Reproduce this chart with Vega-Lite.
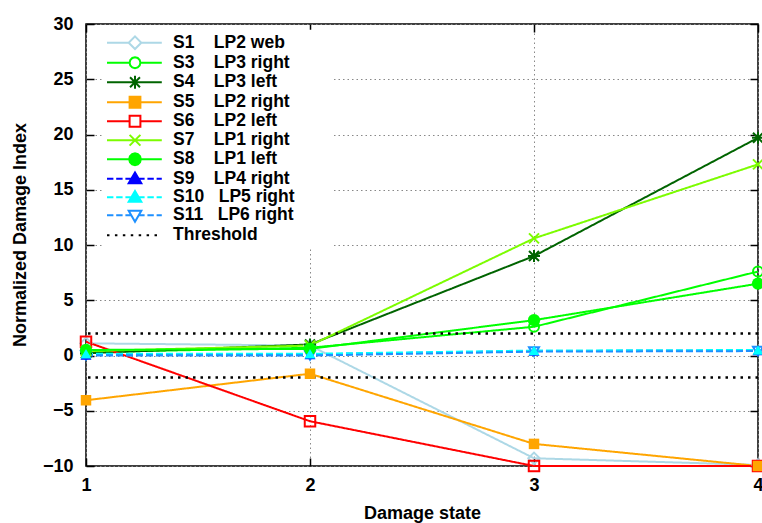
{
  "$schema": "https://vega.github.io/schema/vega-lite/v6.json",
  "width": 672,
  "height": 442,
  "autosize": {"type": "none"},
  "padding": {"left": 86, "top": 24, "right": 4, "bottom": 57},
  "background": "white",
  "config": {"view": {"stroke": "black", "strokeWidth": 1.5}, "font": "Liberation Sans"},
  "datasets": {
    "lines": [
      {"id": "S1", "series": "S1\u00a0\u00a0\u00a0\u00a0LP2 web", "x": 1, "y": 1.1},
      {"id": "S1", "series": "S1\u00a0\u00a0\u00a0\u00a0LP2 web", "x": 2, "y": 0.9},
      {"id": "S1", "series": "S1\u00a0\u00a0\u00a0\u00a0LP2 web", "x": 3, "y": -9.3},
      {"id": "S1", "series": "S1\u00a0\u00a0\u00a0\u00a0LP2 web", "x": 4, "y": -9.9},
      {"id": "S3", "series": "S3\u00a0\u00a0\u00a0\u00a0LP3 right", "x": 1, "y": 0.3},
      {"id": "S3", "series": "S3\u00a0\u00a0\u00a0\u00a0LP3 right", "x": 2, "y": 0.7},
      {"id": "S3", "series": "S3\u00a0\u00a0\u00a0\u00a0LP3 right", "x": 3, "y": 2.6},
      {"id": "S3", "series": "S3\u00a0\u00a0\u00a0\u00a0LP3 right", "x": 4, "y": 7.6},
      {"id": "S4", "series": "S4\u00a0\u00a0\u00a0\u00a0LP3 left", "x": 1, "y": 0.2},
      {"id": "S4", "series": "S4\u00a0\u00a0\u00a0\u00a0LP3 left", "x": 2, "y": 1.0},
      {"id": "S4", "series": "S4\u00a0\u00a0\u00a0\u00a0LP3 left", "x": 3, "y": 9.0},
      {"id": "S4", "series": "S4\u00a0\u00a0\u00a0\u00a0LP3 left", "x": 4, "y": 19.7},
      {"id": "S5", "series": "S5\u00a0\u00a0\u00a0\u00a0LP2 right", "x": 1, "y": -4.05},
      {"id": "S5", "series": "S5\u00a0\u00a0\u00a0\u00a0LP2 right", "x": 2, "y": -1.65},
      {"id": "S5", "series": "S5\u00a0\u00a0\u00a0\u00a0LP2 right", "x": 3, "y": -8.0},
      {"id": "S5", "series": "S5\u00a0\u00a0\u00a0\u00a0LP2 right", "x": 4, "y": -10},
      {"id": "S6", "series": "S6\u00a0\u00a0\u00a0\u00a0LP2 left", "x": 1, "y": 1.25},
      {"id": "S6", "series": "S6\u00a0\u00a0\u00a0\u00a0LP2 left", "x": 2, "y": -5.95},
      {"id": "S6", "series": "S6\u00a0\u00a0\u00a0\u00a0LP2 left", "x": 3, "y": -10},
      {"id": "S6", "series": "S6\u00a0\u00a0\u00a0\u00a0LP2 left", "x": 4, "y": -10},
      {"id": "S7", "series": "S7\u00a0\u00a0\u00a0\u00a0LP1 right", "x": 1, "y": 0.4},
      {"id": "S7", "series": "S7\u00a0\u00a0\u00a0\u00a0LP1 right", "x": 2, "y": 0.9},
      {"id": "S7", "series": "S7\u00a0\u00a0\u00a0\u00a0LP1 right", "x": 3, "y": 10.6},
      {"id": "S7", "series": "S7\u00a0\u00a0\u00a0\u00a0LP1 right", "x": 4, "y": 17.3},
      {"id": "S8", "series": "S8\u00a0\u00a0\u00a0\u00a0LP1 left", "x": 1, "y": 0.5},
      {"id": "S8", "series": "S8\u00a0\u00a0\u00a0\u00a0LP1 left", "x": 2, "y": 0.6},
      {"id": "S8", "series": "S8\u00a0\u00a0\u00a0\u00a0LP1 left", "x": 3, "y": 3.2},
      {"id": "S8", "series": "S8\u00a0\u00a0\u00a0\u00a0LP1 left", "x": 4, "y": 6.5},
      {"id": "S9", "series": "S9\u00a0\u00a0\u00a0\u00a0LP4 right", "x": 1, "y": 0.05},
      {"id": "S9", "series": "S9\u00a0\u00a0\u00a0\u00a0LP4 right", "x": 2, "y": 0.1},
      {"id": "S9", "series": "S9\u00a0\u00a0\u00a0\u00a0LP4 right", "x": 3, "y": 0.4},
      {"id": "S9", "series": "S9\u00a0\u00a0\u00a0\u00a0LP4 right", "x": 4, "y": 0.45},
      {"id": "S10", "series": "S10\u00a0\u00a0\u00a0LP5 right", "x": 1, "y": 0.15},
      {"id": "S10", "series": "S10\u00a0\u00a0\u00a0LP5 right", "x": 2, "y": 0.15},
      {"id": "S10", "series": "S10\u00a0\u00a0\u00a0LP5 right", "x": 3, "y": 0.45},
      {"id": "S10", "series": "S10\u00a0\u00a0\u00a0LP5 right", "x": 4, "y": 0.5},
      {"id": "S11", "series": "S11\u00a0\u00a0\u00a0LP6 right", "x": 1, "y": 0.0},
      {"id": "S11", "series": "S11\u00a0\u00a0\u00a0LP6 right", "x": 2, "y": 0.0},
      {"id": "S11", "series": "S11\u00a0\u00a0\u00a0LP6 right", "x": 3, "y": 0.35},
      {"id": "S11", "series": "S11\u00a0\u00a0\u00a0LP6 right", "x": 4, "y": 0.4}
    ],
    "thr": [
      {"series": "Threshold", "y": 2},
      {"series": "Threshold", "y": -2}
    ]
  },
  "layer": [
    {
      "data": {"name": "lines"},
      "mark": {"type": "line", "strokeWidth": 2},
      "encoding": {
        "x": {
          "field": "x", "type": "quantitative",
          "scale": {"domain": [1, 4], "nice": false, "zero": false},
          "axis": {
            "orient": "bottom", "values": [1, 2, 3, 4], "format": "d",
            "title": "Damage state", "titleFontSize": 18, "titleFontWeight": "bold", "titleFont": "Liberation Sans", "titleColor": "black",
            "titleY": 47.7, "titleBaseline": "middle",
            "labelFontSize": 18, "labelFontWeight": "bold", "labelFont": "Liberation Sans", "labelColor": "black", "labelFlush": false,
            "tickSize": -8, "tickColor": "black", "tickWidth": 1.5, "labelPadding": 18,
            "domain": false, "grid": true, "gridDash": [1.5, 3], "gridColor": "#888888", "gridWidth": 1
          }
        },
        "y": {
          "field": "y", "type": "quantitative",
          "scale": {"domain": [-10, 30], "nice": false, "zero": false},
          "axis": {
            "orient": "left", "values": [-10, -5, 0, 5, 10, 15, 20, 25, 30],
            "title": "Normalized Damage Index", "titleFontSize": 18, "titleFontWeight": "bold", "titleFont": "Liberation Sans", "titleColor": "black",
            "titleX": -66, "titleY": 210.5, "titleBaseline": "middle", "titleAlign": "center",
            "labelFontSize": 18, "labelFontWeight": "bold", "labelFont": "Liberation Sans", "labelColor": "black", "labelFlush": false,
            "tickSize": -8, "tickColor": "black", "tickWidth": 1.5, "labelPadding": 21,
            "domain": false, "grid": true, "gridDash": [1.5, 3], "gridColor": "#888888", "gridWidth": 1
          }
        },
        "color": {
          "field": "series", "type": "nominal",
          "scale": {
            "domain": ["Threshold", "S1\u00a0\u00a0\u00a0\u00a0LP2 web", "S3\u00a0\u00a0\u00a0\u00a0LP3 right", "S4\u00a0\u00a0\u00a0\u00a0LP3 left", "S5\u00a0\u00a0\u00a0\u00a0LP2 right", "S6\u00a0\u00a0\u00a0\u00a0LP2 left", "S7\u00a0\u00a0\u00a0\u00a0LP1 right", "S8\u00a0\u00a0\u00a0\u00a0LP1 left", "S9\u00a0\u00a0\u00a0\u00a0LP4 right", "S10\u00a0\u00a0\u00a0LP5 right", "S11\u00a0\u00a0\u00a0LP6 right"],
            "range": ["#000000", "#add8e6", "#00ff00", "#006400", "#ffa500", "#ff0000", "#7cfc00", "#00ff00", "#0000ff", "#00ffff", "#1e90ff"]
          },
          "legend": null
        },
        "strokeDash": {
          "field": "id", "type": "nominal",
          "scale": {"domain": ["S1", "S3", "S4", "S5", "S6", "S7", "S8", "S9", "S10", "S11"], "range": [[1, 0], [1, 0], [1, 0], [1, 0], [1, 0], [1, 0], [1, 0], [7, 3], [7, 3], [7, 3]]},
          "legend": null
        }
      }
    },
    {
      "data": {"name": "thr"},
      "mark": {"type": "rule", "strokeWidth": 2.5, "strokeDash": [2.5, 5]},
      "encoding": {
        "y": {"field": "y", "type": "quantitative", "axis": null},
        "color": {"field": "series", "type": "nominal", "legend": null}
      }
    },
    {
      "data": {"name": "lines"},
      "transform": [{"filter": {"field": "id", "equal": "S1"}}],
      "mark": {"type": "point", "shape": "diamond", "filled": false, "strokeWidth": 2, "size": 130, "opacity": 1},
      "encoding": {
        "x": {"field": "x", "type": "quantitative", "axis": null},
        "y": {"field": "y", "type": "quantitative", "axis": null},
        "color": {"field": "series", "type": "nominal", "legend": null}
      }
    },
    {
      "data": {"name": "lines"},
      "transform": [{"filter": {"field": "id", "equal": "S3"}}],
      "mark": {"type": "point", "shape": "circle", "filled": false, "strokeWidth": 2, "size": 100, "opacity": 1},
      "encoding": {
        "x": {"field": "x", "type": "quantitative", "axis": null},
        "y": {"field": "y", "type": "quantitative", "axis": null},
        "color": {"field": "series", "type": "nominal", "legend": null}
      }
    },
    {
      "data": {"name": "lines"},
      "transform": [{"filter": {"field": "id", "equal": "S4"}}],
      "mark": {"type": "point", "shape": "M-1,-1L1,1M-1,1L1,-1M0,-1.2V1.2M-1.2,0H1.2", "filled": false, "strokeWidth": 2, "size": 100, "opacity": 1},
      "encoding": {
        "x": {"field": "x", "type": "quantitative", "axis": null},
        "y": {"field": "y", "type": "quantitative", "axis": null},
        "color": {"field": "series", "type": "nominal", "legend": null}
      }
    },
    {
      "data": {"name": "lines"},
      "transform": [{"filter": {"field": "id", "equal": "S6"}}],
      "mark": {"type": "point", "shape": "square", "filled": false, "strokeWidth": 2, "size": 110, "opacity": 1},
      "encoding": {
        "x": {"field": "x", "type": "quantitative", "axis": null},
        "y": {"field": "y", "type": "quantitative", "axis": null},
        "color": {"field": "series", "type": "nominal", "legend": null}
      }
    },
    {
      "data": {"name": "lines"},
      "transform": [{"filter": {"field": "id", "equal": "S7"}}],
      "mark": {"type": "point", "shape": "M-1,-1L1,1M-1,1L1,-1", "filled": false, "strokeWidth": 2, "size": 100, "opacity": 1},
      "encoding": {
        "x": {"field": "x", "type": "quantitative", "axis": null},
        "y": {"field": "y", "type": "quantitative", "axis": null},
        "color": {"field": "series", "type": "nominal", "legend": null}
      }
    },
    {
      "data": {"name": "lines"},
      "transform": [{"filter": {"field": "id", "equal": "S11"}}],
      "mark": {"type": "point", "shape": "triangle-down", "filled": false, "strokeWidth": 2, "size": 100, "opacity": 1},
      "encoding": {
        "x": {"field": "x", "type": "quantitative", "axis": null},
        "y": {"field": "y", "type": "quantitative", "axis": null},
        "color": {"field": "series", "type": "nominal", "legend": null}
      }
    },
    {
      "data": {"name": "lines"},
      "transform": [{"filter": {"field": "id", "equal": "S8"}}],
      "mark": {"type": "point", "shape": "circle", "filled": true, "size": 150, "opacity": 1},
      "encoding": {
        "x": {"field": "x", "type": "quantitative", "axis": null},
        "y": {"field": "y", "type": "quantitative", "axis": null},
        "color": {"field": "series", "type": "nominal", "legend": null}
      }
    },
    {
      "data": {"name": "lines"},
      "transform": [{"filter": {"field": "id", "oneOf": ["S9", "S10"]}}],
      "mark": {"type": "point", "shape": "triangle-up", "filled": true, "size": 120, "opacity": 1},
      "encoding": {
        "x": {"field": "x", "type": "quantitative", "axis": null},
        "y": {"field": "y", "type": "quantitative", "axis": null},
        "color": {"field": "series", "type": "nominal", "legend": null}
      }
    },
    {
      "data": {"name": "lines"},
      "transform": [{"filter": {"field": "id", "equal": "S5"}}],
      "mark": {"type": "point", "shape": "square", "filled": true, "size": 110, "opacity": 1},
      "encoding": {
        "x": {
          "field": "x", "type": "quantitative",
          "axis": {"orient": "top", "values": [1, 2, 3, 4], "labels": false, "title": null, "tickSize": -8, "tickColor": "black", "tickWidth": 1.5, "domain": false, "grid": false}
        },
        "y": {
          "field": "y", "type": "quantitative",
          "axis": {"orient": "right", "values": [-10, -5, 0, 5, 10, 15, 20, 25, 30], "labels": false, "title": null, "tickSize": -8, "tickColor": "black", "tickWidth": 1.5, "domain": false, "grid": false}
        },
        "color": {"field": "series", "type": "nominal", "legend": null}
      }
    },
    {
      "data": {"name": "lines"},
      "mark": {"type": "point", "opacity": 0},
      "encoding": {
        "x": {"field": "x", "type": "quantitative", "axis": null},
        "y": {"field": "y", "type": "quantitative", "axis": null},
        "stroke": {
          "field": "series", "type": "nominal",
          "scale": {
            "domain": ["S1\u00a0\u00a0\u00a0\u00a0LP2 web", "S3\u00a0\u00a0\u00a0\u00a0LP3 right", "S4\u00a0\u00a0\u00a0\u00a0LP3 left", "S5\u00a0\u00a0\u00a0\u00a0LP2 right", "S6\u00a0\u00a0\u00a0\u00a0LP2 left", "S7\u00a0\u00a0\u00a0\u00a0LP1 right", "S8\u00a0\u00a0\u00a0\u00a0LP1 left", "S9\u00a0\u00a0\u00a0\u00a0LP4 right", "S10\u00a0\u00a0\u00a0LP5 right", "S11\u00a0\u00a0\u00a0LP6 right", "Threshold"],
            "range": ["#add8e6", "#00ff00", "#006400", "#ffa500", "#ff0000", "#7cfc00", "#00ff00", "#0000ff", "#00ffff", "#1e90ff", "#000000"]
          },
          "legend": {
            "orient": "none", "legendX": 18, "legendY": 5.7, "padding": 4,
            "fillColor": "white", "title": null, "symbolOpacity": 1,
            "symbolSize": 256, "symbolStrokeWidth": 2, "labelOffset": 47, "rowPadding": -1.45,
            "labelFontSize": 17.5, "labelFont": "Liberation Sans", "labelFontWeight": "bold", "labelColor": "black", "labelLimit": 400
          }
        },
        "fill": {
          "field": "series", "type": "nominal",
          "scale": {
            "domain": ["S1\u00a0\u00a0\u00a0\u00a0LP2 web", "S3\u00a0\u00a0\u00a0\u00a0LP3 right", "S4\u00a0\u00a0\u00a0\u00a0LP3 left", "S5\u00a0\u00a0\u00a0\u00a0LP2 right", "S6\u00a0\u00a0\u00a0\u00a0LP2 left", "S7\u00a0\u00a0\u00a0\u00a0LP1 right", "S8\u00a0\u00a0\u00a0\u00a0LP1 left", "S9\u00a0\u00a0\u00a0\u00a0LP4 right", "S10\u00a0\u00a0\u00a0LP5 right", "S11\u00a0\u00a0\u00a0LP6 right", "Threshold"],
            "range": ["white", "white", "white", "#ffa500", "white", "white", "#00ff00", "#0000ff", "#00ffff", "white", "white"]
          },
          "legend": {
            "orient": "none", "legendX": 18, "legendY": 5.7, "padding": 4,
            "fillColor": "white", "title": null, "symbolOpacity": 1,
            "symbolSize": 256, "symbolStrokeWidth": 2, "labelOffset": 47, "rowPadding": -1.45,
            "labelFontSize": 17.5, "labelFont": "Liberation Sans", "labelFontWeight": "bold", "labelColor": "black", "labelLimit": 400
          }
        },
        "shape": {
          "field": "series", "type": "nominal",
          "scale": {
            "domain": ["S1\u00a0\u00a0\u00a0\u00a0LP2 web", "S3\u00a0\u00a0\u00a0\u00a0LP3 right", "S4\u00a0\u00a0\u00a0\u00a0LP3 left", "S5\u00a0\u00a0\u00a0\u00a0LP2 right", "S6\u00a0\u00a0\u00a0\u00a0LP2 left", "S7\u00a0\u00a0\u00a0\u00a0LP1 right", "S8\u00a0\u00a0\u00a0\u00a0LP1 left", "S9\u00a0\u00a0\u00a0\u00a0LP4 right", "S10\u00a0\u00a0\u00a0LP5 right", "S11\u00a0\u00a0\u00a0LP6 right", "Threshold"],
            "range": [
              "M-1.25,0H1.46M3.04,0H5.6M2.25,-0.79L3.04,0L2.25,0.79L1.46,0ZM26,0h0",
              "M-1.25,0H1.575M2.925,0H5.6M2.925,0L2.835,0.34L2.59,0.585L2.25,0.675L1.91,0.585L1.665,0.34L1.575,0L1.665,-0.34L1.91,-0.585L2.25,-0.675L2.59,-0.585L2.835,-0.34ZM26,0h0",
              "M-1.25,0H5.6M1.63,-0.62L2.87,0.62M1.63,0.62L2.87,-0.62M2.25,-0.8V0.8M26,0h0",
              "M-1.25,0H1.575M2.925,0H5.6M1.575,-0.675H2.925V0.675H1.575ZM26,0h0",
              "M-1.25,0H1.575M2.925,0H5.6M1.575,-0.675H2.925V0.675H1.575ZM26,0h0",
              "M-1.25,0H5.6M1.575,-0.675L2.925,0.675M1.575,0.675L2.925,-0.675M26,0h0",
              "M-1.25,0H5.6M2.98,0L2.882,0.365L2.615,0.632L2.25,0.73L1.885,0.632L1.618,0.365L1.52,0L1.618,-0.365L1.885,-0.632L2.25,-0.73L2.615,-0.632L2.882,-0.365ZM26,0h0",
              "M-1.25,0H-0.45M-0.1,0H0.7M1.05,0H1.85M2.65,0H3.45M3.8,0H4.6M4.95,0H5.6M2.25,-0.79L3.04,0.56H1.46ZM26,0h0",
              "M-1.25,0H-0.45M-0.1,0H0.7M1.05,0H1.85M2.65,0H3.45M3.8,0H4.6M4.95,0H5.6M2.25,-0.79L3.04,0.56H1.46ZM26,0h0",
              "M-1.25,0H-0.45M-0.1,0H0.7M1.05,0H1.85M2.65,0H3.45M3.8,0H4.6M4.95,0H5.6M2.25,0.79L3.04,-0.56H1.46ZM26,0h0",
              "M-1.25,0h0.31M-0.26,0h0.31M0.73,0h0.31M1.72,0h0.31M2.71,0h0.31M3.7,0h0.31M4.69,0h0.31M26,0h0"
            ]
          },
          "legend": {
            "orient": "none", "legendX": 18, "legendY": 5.7, "padding": 4,
            "fillColor": "white", "title": null, "symbolOpacity": 1,
            "symbolSize": 256, "symbolStrokeWidth": 2, "labelOffset": 47, "rowPadding": -1.45,
            "labelFontSize": 17.5, "labelFont": "Liberation Sans", "labelFontWeight": "bold", "labelColor": "black", "labelLimit": 400
          }
        }
      }
    }
  ]
}
